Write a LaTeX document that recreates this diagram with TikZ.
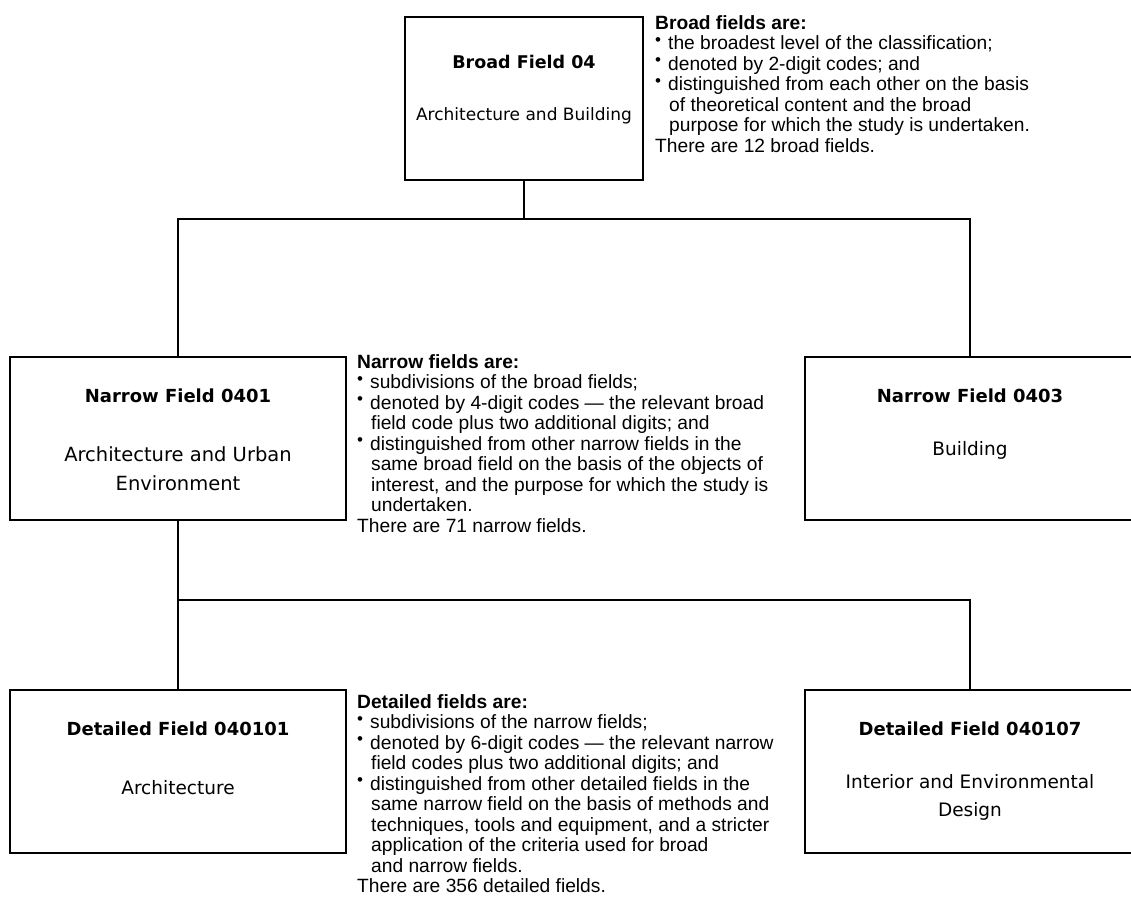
\documentclass[tikz,border=0pt]{standalone}
\usepackage{fontspec}
\setmainfont{Liberation Sans}
\newfontfamily\boxfont{DejaVu Sans}
\tikzset{
  fieldbox/.style={draw, line width=1.6pt, minimum width=336pt, minimum height=163pt, anchor=north west, inner sep=0pt, outer sep=0pt},
  boxtitle/.style={font=\boxfont\bfseries\fontsize{18}{22}\selectfont, align=center, inner sep=0pt},
  boxbody/.style={font=\boxfont\fontsize{18.5}{28}\selectfont, align=center, inner sep=0pt},
  note/.style={anchor=north west, inner sep=0pt, align=left, font=\fontsize{19.2}{20.5}\selectfont},
  conn/.style={line width=1.6pt}
}
\newcommand{\bul}{\makebox[13pt][l]{\raisebox{0.42ex}{\fontsize{17}{17}\selectfont\textbullet}}}
\newcommand{\ind}{\hspace*{14pt}}
\begin{document}
\begin{tikzpicture}[x=1pt,y=-1pt]
\useasboundingbox (0,0) rectangle (1131,900);
% boxes
\node[fieldbox, minimum width=238pt] (broad) at (405,17) {};
\node[fieldbox] (n1) at (10,357) {};
\node[fieldbox, minimum width=330pt] (n3) at (805,357) {};
\node[fieldbox] (d1) at (10,690) {};
\node[fieldbox, minimum width=330pt] (d7) at (805,690) {};
% texts in boxes
\node[boxtitle, font=\boxfont\bfseries\fontsize{17.5}{20}\selectfont] (bt) at (broad.center |- 0,62) {Broad Field 04};
\node[boxbody, font=\boxfont\fontsize{17}{20}\selectfont] (bb) at (broad.center |- 0,116) {Architecture and Building};
\node[boxtitle] (n1t) at (n1.center |- 0,396) {Narrow Field 0401};
\node[boxbody, anchor=north, font=\boxfont\fontsize{19.5}{29}\selectfont] (n1b) at (n1.center |- 0,446) {Architecture and Urban\\Environment};
\node[boxtitle] (n3t) at (n3.center |- 0,396) {Narrow Field 0403};
\node[boxbody] (n3b) at (n3.center |- 0,450) {Building};
\node[boxtitle] (d1t) at (d1.center |- 0,729) {Detailed Field 040101};
\node[boxbody] (d1b) at (d1.center |- 0,788) {Architecture};
\node[boxtitle] (d7t) at (d7.center |- 0,729) {Detailed Field 040107};
\node[boxbody, anchor=north] (d7b) at (d7.center |- 0,774) {Interior and Environmental\\Design};
% connectors
\coordinate (j1) at (broad.south |- 0,219);
\coordinate (j3) at (n1.south |- 0,600);
\draw[conn] (broad.south) -- (j1);
\draw[conn] (n1.north) |- (j1) -| (n3.north);
\draw[conn] (n1.south) -- (j3);
\draw[conn] (d1.north) |- (j3) -| (d7.north);
% notes
\node[note] (nb) at (655,15) {\textbf{Broad fields are:}\\
\bul the broadest level of the classification;\\
\bul denoted by 2-digit codes; and\\
\bul distinguished from each other on the basis\\
\ind of theoretical content and the broad\\
\ind purpose for which the study is undertaken.\\
There are 12 broad fields.};
\node[note] (nn) at (357,354) {\textbf{Narrow fields are:}\\
\bul subdivisions of the broad fields;\\
\bul denoted by 4-digit codes --- the relevant broad\\
\ind field code plus two additional digits; and\\
\bul distinguished from other narrow fields in the\\
\ind same broad field on the basis of the objects of\\
\ind interest, and the purpose for which the study is\\
\ind undertaken.\\
There are 71 narrow fields.};
\node[note] (nd) at (357,694) {\textbf{Detailed fields are:}\\
\bul subdivisions of the narrow fields;\\
\bul denoted by 6-digit codes --- the relevant narrow\\
\ind field codes plus two additional digits; and\\
\bul distinguished from other detailed fields in the\\
\ind same narrow field on the basis of methods and\\
\ind techniques, tools and equipment, and a stricter\\
\ind application of the criteria used for broad\\
\ind and narrow fields.\\
There are 356 detailed fields.};
\end{tikzpicture}
\end{document}
